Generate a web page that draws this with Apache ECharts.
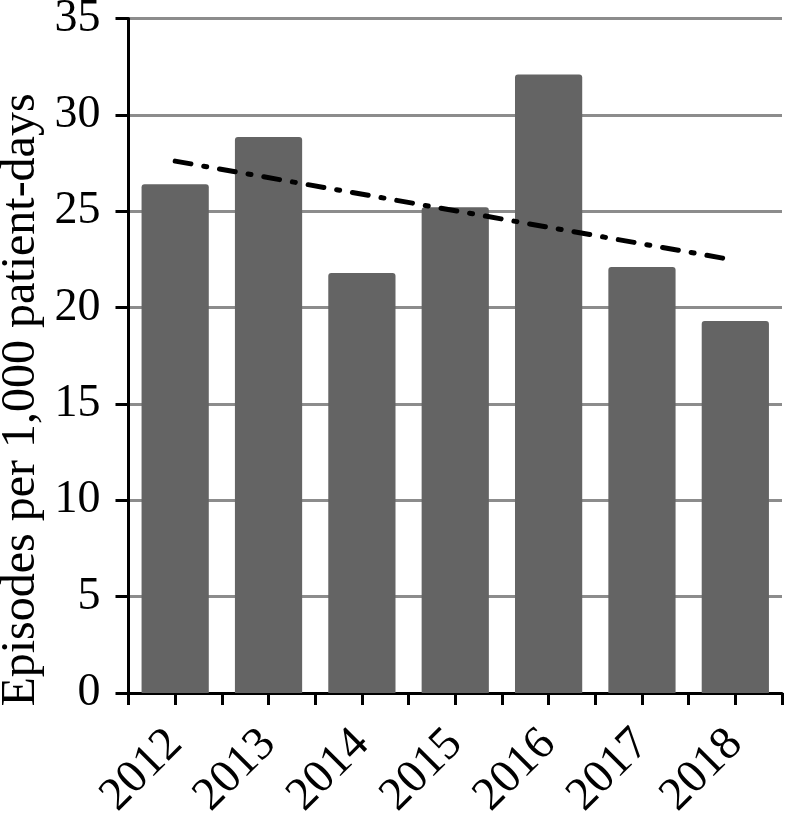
<!DOCTYPE html>
<html>
<head>
<meta charset="utf-8">
<script src="https://cdn.jsdelivr.net/npm/echarts@6/dist/echarts.min.js"></script>
<style>html,body{margin:0;padding:0;background:#fff;}#c{width:787px;height:816px;}</style>
</head>
<body>
<div id="c"></div>
<script>
var categories = ['2012', '2013', '2014', '2015', '2016', '2017', '2018'];
var episodes = [26.4, 28.85, 21.8, 25.2, 32.1, 22.1, 19.3];
var trendCategories = ['2012', '2018'];
var trendValues = [27.6, 22.45];
var yTicks = {min: 0, max: 35, interval: 5};
var yTitle = 'Episodes per 1,000 patient-days';

var font = 'Liberation Serif';
var chart = echarts.init(document.getElementById('c'));
chart.setOption({
  animation: false,
  backgroundColor: '#ffffff',
  textStyle: {fontFamily: font, color: '#000'},
  grid: {left: 128.5, right: 5, top: 18.5, bottom: 123, containLabel: false, outerBoundsMode: 'none'},
  graphic: [{
    type: 'text',
    x: 21,
    y: 400,
    rotation: Math.PI / 2,
    style: {
      text: yTitle,
      fontFamily: font,
      fontSize: 48,
      fill: '#000',
      align: 'center',
      verticalAlign: 'middle'
    }
  }],
  xAxis: [{
    type: 'category',
    data: categories,
    position: 'bottom',
    boundaryGap: true,
    axisLine: {show: true, lineStyle: {color: '#000', width: 3}},
    axisTick: {show: true, interval: 0, length: 12, lineStyle: {color: '#000', width: 3}},
    axisLabel: {rotate: 45, interval: 0, fontSize: 47, fontFamily: font, color: '#000', margin: 44},
    splitLine: {show: false}
  }, {
    type: 'category',
    data: categories,
    position: 'bottom',
    boundaryGap: true,
    axisLine: {show: false},
    axisTick: {show: true, interval: 0, alignWithLabel: true, length: 12, lineStyle: {color: '#000', width: 3}},
    axisLabel: {show: false},
    splitLine: {show: false}
  }],
  yAxis: {
    type: 'value',
    min: yTicks.min, max: yTicks.max, interval: yTicks.interval,
    axisLine: {show: true, lineStyle: {color: '#000', width: 3}},
    axisTick: {show: true, length: 13, lineStyle: {color: '#000', width: 3}},
    axisLabel: {fontSize: 46, fontFamily: font, color: '#000', margin: 28},
    splitLine: {show: true, lineStyle: {color: '#8c8c8c', width: 3}}
  },
  series: [{
    type: 'bar',
    xAxisIndex: 0,
    data: episodes,
    barCategoryGap: '28%',
    itemStyle: {color: '#646464', borderRadius: [3, 3, 0, 0]},
    z: 2
  }, {
    type: 'line',
    xAxisIndex: 0,
    data: trendCategories.map(function (c, i) { return [c, trendValues[i]]; }),
    symbol: 'none',
    lineStyle: {color: '#000', width: 5, type: [16, 13, 3, 13], cap: 'round'},
    z: 5
  }]
});
</script>
</body>
</html>
